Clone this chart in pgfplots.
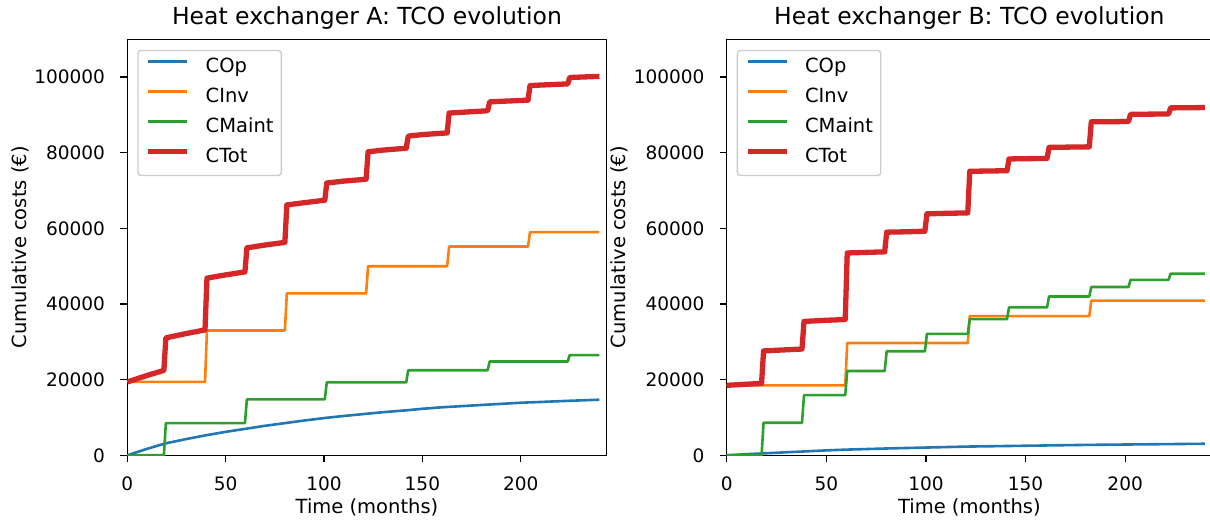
\documentclass[border=0pt]{standalone}
\usepackage{fontspec}
\setmainfont{DejaVu Sans}
\usepackage{pgfplots}
\pgfplotsset{compat=1.18}
\definecolor{tabblue}{HTML}{1F77B4}
\definecolor{taborange}{HTML}{FF7F0E}
\definecolor{tabgreen}{HTML}{2CA02C}
\definecolor{tabred}{HTML}{D62728}
\pgfplotsset{
  tcobase/.style={
    scale only axis, height=416pt,
    xmin=0, ymin=0, ymax=110000,
    scaled y ticks=false, scaled x ticks=false,
    xtick={0,50,100,150,200}, xticklabels={0,50,100,150,200},
    ytick={0,20000,40000,60000,80000,100000},
    yticklabels={0,20000,40000,60000,80000,100000},
    tick align=outside, xtick pos=bottom, ytick pos=left,
    major tick length=6.8pt,
    every tick/.style={black, line width=1.3pt},
    axis line style={line width=1.3pt},
    tick label style={font=\fontsize{18.5}{22}\selectfont, inner sep=0pt},
    xticklabel style={anchor=base, yshift=-28.8pt},
    yticklabel style={anchor=east, xshift=-15.3pt},
    label style={font=\fontsize{19.5}{23}\selectfont, inner sep=0pt},
    xlabel={Time (months)},
    ylabel={Cumulative costs (€)},
    xlabel style={at={([yshift=-58.5pt]axis description cs:0.5,0)}, anchor=base},
    ylabel style={at={([xshift=-107pt]axis description cs:0,0.5)}, anchor=center},
    title style={at={([yshift=9.2pt]axis description cs:0.5,1)}, anchor=base, font=\fontsize{23.5}{28}\selectfont, inner sep=0pt},
    legend cell align=left,
    legend image code/.code={\draw[##1] (0pt,6.5pt) -- (39pt,6.5pt);},
    legend style={at={([xshift=10pt,yshift=-10.5pt]axis description cs:0,1)}, anchor=north west,
      draw=black!20, line width=1.4pt, fill=white, fill opacity=0.8, text opacity=1,
      rounded corners=3pt, inner xsep=7.8pt, inner ysep=7.8pt,
      row sep=10.6pt, column sep=15.6pt,
      font=\fontsize{19.5}{23}\selectfont,
      nodes={inner sep=0pt, text height=14.6pt, text depth=4.8pt}},
    every axis plot/.append style={line join=round},
  },
  thin/.style={line width=2.6pt},
  thick/.style={line width=5.3pt},
}
\begin{document}
\begin{tikzpicture}
\useasboundingbox (0,0) rectangle (1210pt,522pt);
% ---------------- Heat exchanger A ----------------
\begin{axis}[tcobase, at={(127.3pt,66.7pt)}, anchor=south west, width=479.4pt, xmax=243.7,
  title={Heat exchanger A: TCO evolution}]
\addplot[tabblue, thin] coordinates {(0,0) (10,1700) (19,3100) (30,4300) (40,5300) (50,6200) (60,7000) (70,7800) (80,8500) (90,9200) (101,9900) (110,10400) (120,10900) (130,11400) (142,11900) (150,12300) (160,12700) (170,13000) (183,13400) (190,13600) (200,13900) (210,14100) (224,14400) (240,14700)};
\addlegendentry{COp}
\addplot[taborange, thin] coordinates {(0,19400) (39.5,19400) (40.5,33000) (80.1,33000) (81.1,42800) (121.4,42800) (122.4,50000) (162.6,50000) (163.6,55200) (203.7,55200) (204.7,59000) (240,59000)};
\addlegendentry{CInv}
\addplot[tabgreen, thin] coordinates {(0,0) (18.6,0) (19.6,8500) (59.8,8500) (60.8,14800) (100.4,14800) (101.4,19300) (141.8,19300) (142.8,22500) (183.2,22500) (184.2,24800) (223.9,24800) (224.9,26500) (240,26500)};
\addlegendentry{CMaint}
\addplot[tabred, thick] coordinates {(0,19400) (10,21100) (18.6,22450) (19.6,31050) (30,32200) (39.5,33150) (40.5,46850) (50,47700) (59.8,48500) (60.8,54850) (70,55600) (80.1,56300) (81.1,66200) (90,66800) (100.4,67450) (101.4,72000) (110,72500) (121.4,73000) (122.4,80250) (130,80700) (141.8,81200) (142.8,84400) (150,84800) (162.6,85250) (163.6,90500) (170,90700) (183.2,91100) (184.2,93450) (190,93600) (203.7,93900) (204.7,97750) (210,97900) (223.9,98200) (224.9,99900) (240,100200)};
\addlegendentry{CTot}
\end{axis}
% ---------------- Heat exchanger B ----------------
\begin{axis}[tcobase, at={(726.7pt,66.7pt)}, anchor=south west, width=485.3pt, xmax=243.6,
  title={Heat exchanger B: TCO evolution}]
\addplot[tabblue, thin] coordinates {(0,0) (10,300) (20,550) (30,800) (40,1050) (50,1300) (60,1500) (70,1650) (80,1800) (100,2050) (120,2300) (140,2450) (160,2600) (180,2750) (200,2850) (220,2950) (240,3050)};
\addlegendentry{COp}
\addplot[taborange, thin] coordinates {(0,18500) (59.5,18500) (60.5,29700) (121,29700) (122,36800) (182,36800) (183,40900) (240,40900)};
\addlegendentry{CInv}
\addplot[tabgreen, thin] coordinates {(0,0) (17.5,0) (18.5,8600) (37.8,8600) (38.8,15900) (59.5,15900) (60.5,22300) (79.3,22300) (80.3,27500) (99.5,27500) (100.5,32100) (121,32100) (122,36000) (140.7,36000) (141.7,39100) (160.8,39100) (161.8,42000) (182,42000) (183,44500) (201.7,44500) (202.7,46400) (221.8,46400) (222.8,48000) (240,48000)};
\addlegendentry{CMaint}
\addplot[tabred, thick] coordinates {(0,18500) (10,18800) (17.5,19000) (18.5,27600) (30,27900) (37.8,28100) (38.8,35400) (50,35700) (59.5,35900) (60.5,53500) (70,53650) (79.3,53800) (80.3,59000) (90,59100) (99.5,59250) (100.5,63850) (110,63980) (121,64100) (122,75100) (130,75160) (140.7,75250) (141.7,78360) (150,78430) (160.8,78500) (161.8,81410) (170,81480) (182,81560) (183,88170) (190,88200) (201.7,88260) (202.7,90160) (210,90200) (221.8,90250) (222.8,91860) (240,91950)};
\addlegendentry{CTot}
\end{axis}
\end{tikzpicture}
\end{document}
